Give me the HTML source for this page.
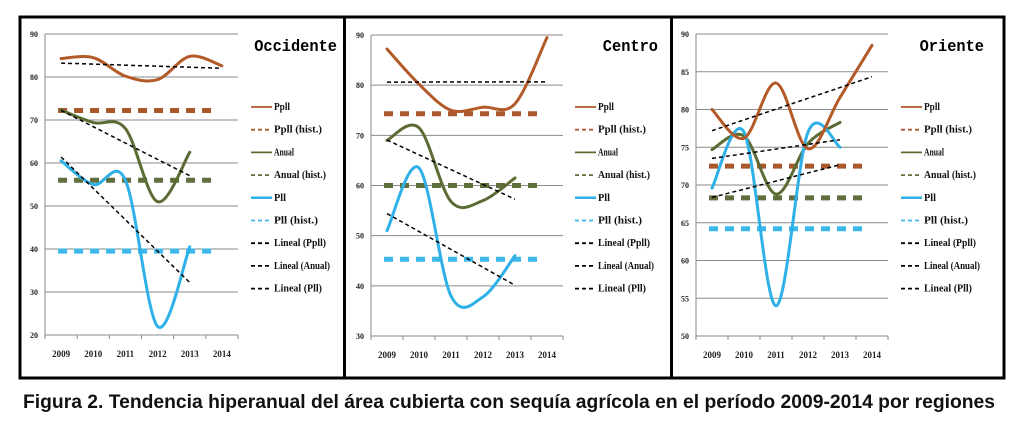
<!DOCTYPE html>
<html><head><meta charset="utf-8">
<style>
html,body{margin:0;padding:0;background:#fff;}
svg{display:block;}
</style></head>
<body>
<svg id="fig" width="1016" height="424" viewBox="0 0 1016 424" style="font-family:'Liberation Sans',sans-serif">
<rect x="0" y="0" width="1016" height="424" fill="#fff"/>
<g id="panels"></g>
<rect x="20" y="17" width="984" height="361" fill="none" stroke="#000" stroke-width="3"/>
<line x1="344.5" y1="17" x2="344.5" y2="378" stroke="#000" stroke-width="3"/>
<line x1="671.5" y1="17" x2="671.5" y2="378" stroke="#000" stroke-width="3"/>
<text x="23" y="408" font-size="19" font-weight="bold" textLength="972" lengthAdjust="spacingAndGlyphs" fill="#111">Figura 2. Tendencia hiperanual del área cubierta con sequía agrícola en el período 2009-2014 por regiones</text>
</svg>
<script>
const years = ["2009","2010","2011","2012","2013","2014"];
// Occidente
const occPpll = [84.3, 84.5, 80.2, 79.4, 84.8, 82.6];
const occAnual = [72.3, 69.4, 68.0, 51.0, 62.5];
const occPll = [60.5, 55.0, 56.0, 22.0, 40.5];
const occHist = [72.2, 56.0, 39.5];
const occTicks = [20, 30, 40, 50, 60, 70, 80, 90];
// Centro
const cenPpll = [87.2, 80.2, 75.0, 75.6, 76.3, 89.5];
const cenAnual = [69.0, 71.5, 56.8, 57.0, 61.5];
const cenPll = [51.0, 63.5, 38.0, 37.8, 46.0];
const cenHist = [74.3, 60.0, 45.3];
const cenTicks = [30, 40, 50, 60, 70, 80, 90];
// Oriente
const oriPpll = [80.0, 76.2, 83.5, 74.8, 81.6, 88.5];
const oriAnual = [74.7, 76.5, 68.8, 75.5, 78.3];
const oriPll = [69.6, 77.0, 54.0, 77.0, 75.0];
const oriHist = [72.5, 68.3, 64.2];
const oriTicks = [50, 55, 60, 65, 70, 75, 80, 85, 90];
const legendLabels = ["Ppll","Ppll (hist.)","Anual","Anual (hist.)","Pll","Pll (hist.)","Lineal (Ppll)","Lineal (Anual)","Lineal (Pll)"];

const NS = "http://www.w3.org/2000/svg";
const C = {ppll:"#b35a28", anual:"#5b6b34", pll:"#2eb0e8", ppllH:"#a8582a", anualH:"#5f6e3a", pllH:"#3cb9ea"};
function mk(tag, attrs, parent){const e=document.createElementNS(NS,tag);for(const k in attrs)e.setAttribute(k,attrs[k]);parent.appendChild(e);return e;}

function smooth(pts){
  let d="M"+pts[0][0]+","+pts[0][1];
  for(let i=0;i<pts.length-1;i++){
    const p0=pts[i-1]||pts[i],p1=pts[i],p2=pts[i+1],p3=pts[i+2]||p2;
    const t=1/6;
    d+=" C"+(p1[0]+(p2[0]-p0[0])*t)+","+(p1[1]+(p2[1]-p0[1])*t)+" "+(p2[0]-(p3[0]-p1[0])*t)+","+(p2[1]-(p3[1]-p1[1])*t)+" "+p2[0]+","+p2[1];
  }
  return d;
}
function fit(vals){
  const n=vals.length;let mx=(n-1)/2,my=vals.reduce((a,b)=>a+b,0)/n,sxy=0,sxx=0;
  vals.forEach((v,i)=>{sxy+=(i-mx)*(v-my);sxx+=(i-mx)*(i-mx);});
  const b=sxy/sxx;return [my-b*mx, my+b*(n-1-mx)];
}

function panel(cfg){
  const root=document.getElementById("panels");
  const g=mk("g",{},root);
  
  
  const w=(cfg.right-cfg.left)/6;
  const x=i=>cfg.left+(i+0.5)*w;
  const y=v=>cfg.top+(cfg.max-v)/(cfg.max-cfg.min)*(cfg.bot-cfg.top);
  cfg.ticks.forEach(t=>{
    const l=mk("line",{x1:cfg.left,x2:cfg.right,y1:y(t),y2:y(t),stroke:"#8a8a8a","stroke-width":1},g);
    
    
    const tx=mk("text",{x:cfg.left-7,y:y(t)+3,"font-size":8,"font-weight":"bold","text-anchor":"end",fill:"#222",style:"font-family:'Liberation Serif',serif"},g);
    tx.textContent=t;
    
    
  });
  const ax=mk("line",{x1:cfg.left,x2:cfg.left,y1:cfg.top,y2:cfg.bot,stroke:"#8a8a8a"},g);
  
  
  for(let i=0;i<=6;i++){
    const tk=mk("line",{x1:cfg.left+i*w,x2:cfg.left+i*w,y1:cfg.bot,y2:cfg.bot+4,stroke:"#8a8a8a"},g);
    
    
  }
  years.forEach((yr,i)=>{
    const tx=mk("text",{x:x(i),y:cfg.bot+22,"font-size":9,"font-weight":"bold","text-anchor":"middle",fill:"#222",style:"font-family:'Liberation Serif',serif"},g);
    tx.textContent=yr;
    
    
  });
  const hc=[C.ppllH,C.anualH,C.pllH], hn=["ppll-hist-line","anual-hist-line","pll-hist-line"];
  cfg.hist.forEach((v,k)=>{
    const l=mk("line",{x1:x(0)-3,x2:x(5)-8,y1:y(v),y2:y(v),stroke:hc[k],"stroke-width":5,"stroke-dasharray":"9,7"},g);
    
    
  });
  const series=[[cfg.anual,C.anual,"anual-line"],[cfg.pll,C.pll,"pll-line"],[cfg.ppll,C.ppll,"ppll-line"]];
  series.forEach(([vals,col,nm])=>{
    const p=mk("path",{d:smooth(vals.map((v,i)=>[x(i),y(v)])),fill:"none",stroke:col,"stroke-width":3,"stroke-linecap":"round"},g);
    
    
  });
  [[cfg.ppll,"ppll-trend"],[cfg.anual,"anual-trend"],[cfg.pll,"pll-trend"]].forEach(([vals,nm])=>{
    const f=fit(vals);
    const l=mk("line",{x1:x(0),x2:x(vals.length-1),y1:y(f[0]),y2:y(f[1]),stroke:"#000","stroke-width":1.5,"stroke-dasharray":"4,3"},g);
    
    
  });
  const tt=mk("text",{x:cfg.titleX,y:51,"font-size":17,"font-weight":"bold","text-anchor":"end",fill:"#000",textLength:cfg.title.length*9.2,lengthAdjust:"spacingAndGlyphs",style:"font-family:'Liberation Mono',monospace"},g);
  tt.textContent=cfg.title;
  
  
  const lc=[[C.ppll,0],[C.ppllH,1],[C.anual,0],[C.anualH,1],[C.pll,0],[C.pllH,1],["#000",1],["#000",1],["#000",1]];
  legendLabels.forEach((lab,k)=>{
    const yy=107+k*22.7;
    const ln=mk("line",{x1:cfg.legX,x2:cfg.legX+21,y1:yy,y2:yy,stroke:lc[k][0],"stroke-width":k===4?2.5:1.8},g);
    if(lc[k][1]) ln.setAttribute("stroke-dasharray","4,3");
    
    
    const tx=mk("text",{x:cfg.legX+23,y:yy+3,"font-size":10,"font-weight":"bold",fill:"#111",textLength:lab.length*4,lengthAdjust:"spacingAndGlyphs",style:"font-family:'Liberation Serif',serif"},g);
    tx.textContent=lab;
    
    
  });
}
panel({name:"occidente",title:"Occidente",left:45,right:238,top:34,bot:335,min:20,max:90,ticks:occTicks,ppll:occPpll,anual:occAnual,pll:occPll,hist:occHist,titleX:337,legX:251});
panel({name:"centro",title:"Centro",left:371,right:563,top:35,bot:336,min:30,max:90,ticks:cenTicks,ppll:cenPpll,anual:cenAnual,pll:cenPll,hist:cenHist,titleX:658,legX:575});
panel({name:"oriente",title:"Oriente",left:696,right:888,top:34,bot:336,min:50,max:90,ticks:oriTicks,ppll:oriPpll,anual:oriAnual,pll:oriPll,hist:oriHist,titleX:984,legX:901});
</script>
</body></html>
